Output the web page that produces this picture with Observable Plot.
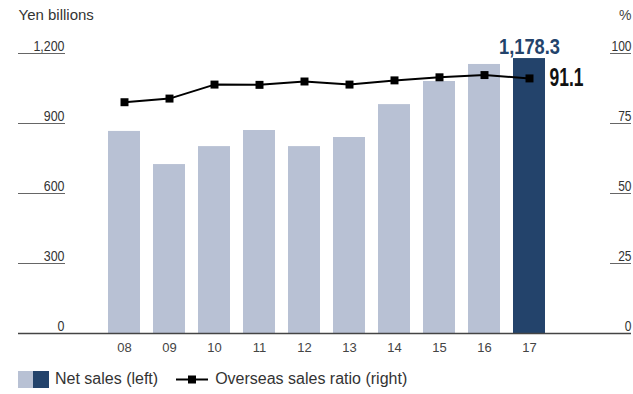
<!DOCTYPE html>
<html>
<head>
<meta charset="utf-8">
<script src="https://cdn.jsdelivr.net/npm/d3@7"></script>
<script src="https://cdn.jsdelivr.net/npm/@observablehq/plot@0.6"></script>
<style>
  body { margin: 0; background: #fff; font-family: "Liberation Sans", Arial, sans-serif; }
  #chart { width: 633px; }
  .legend { display: flex; align-items: center; height: 38px; padding-left: 18px; color: #333; font-size: 16px; }
  .legend .item { display: flex; align-items: center; margin-right: 18px; }
  .legend svg { margin-right: 5px; }
</style>
</head>
<body>
<div id="chart"></div>
<script>
// Fiscal years, net sales (yen billions) and overseas sales ratio (%)
const years = ["08", "09", "10", "11", "12", "13", "14", "15", "16", "17"];
const netSales = [866, 724, 801, 870, 801, 840, 981, 1080, 1153, 1178.3];
const overseasRatio = [82.6, 83.9, 88.9, 88.8, 90.0, 88.9, 90.4, 91.5, 92.3, 91.1];

const leftTicks = [0, 300, 600, 900, 1200];
const rightTicks = [0, 25, 50, 75, 100];
const PCT = 12; // 100% on the right axis sits level with 1,200 on the left

const light = "#b8c1d4";
const dark = "#23436b";
const sans = '"Liberation Sans", Arial, sans-serif';

// squeeze a text mark horizontally (condensed look), keeping each label pinned at its anchor
function condensed(factor) {
  return (index, scales, values, dimensions, context, next) => {
    const g = next(index, scales, values, dimensions, context);
    for (const t of g.querySelectorAll("text")) {
      const x = +(t.getAttribute("x") || 0);
      const base = t.getAttribute("transform") || "";
      t.setAttribute("transform", `${base} translate(${x},0) scale(${factor},1) translate(${-x},0)`);
    }
    return g;
  };
}

const rows = years.map((year, i) => ({
  year, sales: netSales[i], ratio: overseasRatio[i], latest: i === years.length - 1
}));
const latest = rows.filter(d => d.latest);

const plot = Plot.plot({
  width: 633,
  height: 360,
  marginTop: 53,
  marginBottom: 27,
  marginLeft: 94,
  marginRight: 74,
  style: { fontFamily: sans, background: "white" },
  x: { domain: years, padding: 0.29 },
  y: { domain: [0, 1200], axis: null },
  marks: [
    // bars
    Plot.barY(rows.filter(d => !d.latest), { x: "year", y: "sales", fill: light }),
    Plot.barY(latest, { x: "year", y: "sales", fill: dark }),
    // left axis ticks and labels
    Plot.ruleY(leftTicks, { insetLeft: -76, insetRight: 494, stroke: "#666", strokeWidth: 1 }),
    Plot.text(leftTicks, {
      y: d => d, text: d => d3.format(",")(d), frameAnchor: "left", dx: -30, dy: -3,
      textAnchor: "end", lineAnchor: "bottom", fontSize: 15, fill: "#333",
      render: condensed(0.83)
    }),
    // right axis ticks and labels
    Plot.ruleY(rightTicks.map(v => v * PCT), { insetLeft: 516, insetRight: -72, stroke: "#666", strokeWidth: 1 }),
    Plot.text(rightTicks, {
      y: d => d * PCT, text: d => String(d), frameAnchor: "right", dx: 72, dy: -3,
      textAnchor: "end", lineAnchor: "bottom", fontSize: 15, fill: "#333",
      render: condensed(0.8)
    }),
    // baseline
    Plot.ruleY([0], { insetLeft: -76, insetRight: -72, stroke: "#444", strokeWidth: 1.5 }),
    // axis units
    Plot.text(["Yen billions"], {
      frameAnchor: "top-left", dx: -76, dy: -44, textAnchor: "start", lineAnchor: "top",
      fontSize: 15, fill: "#333"
    }),
    Plot.text(["%"], {
      frameAnchor: "top-right", dx: 72, dy: -43, textAnchor: "end", lineAnchor: "top",
      fontSize: 14, fill: "#444"
    }),
    // overseas sales ratio
    Plot.line(rows, { x: "year", y: d => d.ratio * PCT, stroke: "black", strokeWidth: 2 }),
    Plot.dot(rows, { x: "year", y: d => d.ratio * PCT, symbol: "square", r: 4.5, fill: "black" }),
    // latest-year callouts
    Plot.text(latest, {
      x: "year", y: "sales", text: d => d3.format(",.1f")(d.sales), dy: -5, lineAnchor: "bottom",
      fontWeight: "bold", fontSize: 22, fill: dark,
      render: condensed(0.83)
    }),
    Plot.text(latest, {
      x: "year", y: d => d.ratio * PCT, text: d => d3.format(".1f")(d.ratio), dx: 20,
      textAnchor: "start", fontWeight: "bold", fontSize: 25, fill: "#111",
      render: condensed(0.7)
    }),
    // year labels
    Plot.axisX({ tickSize: 0, tickPadding: 9, fontSize: 13, color: "#444", label: null })
  ]
});

document.getElementById("chart").append(plot);

// legend below the chart
const legend = document.createElement("div");
legend.className = "legend";
legend.innerHTML = `
  <div class="item">
    <svg width="32" height="17"><rect x="0" y="0" width="15" height="17" fill="${light}"/><rect x="15" y="0" width="16" height="17" fill="${dark}"/></svg>
    <span>Net sales (left)</span>
  </div>
  <div class="item">
    <svg width="34" height="17"><line x1="0" x2="32" y1="8.5" y2="8.5" stroke="black" stroke-width="2"/><rect x="12" y="4.5" width="8" height="8" fill="black"/></svg>
    <span>Overseas sales ratio (right)</span>
  </div>`;
document.getElementById("chart").append(legend);
</script>
</body>
</html>
